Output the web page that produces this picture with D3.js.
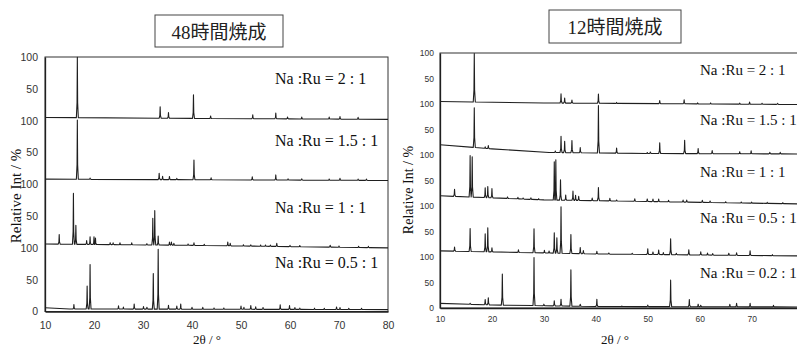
<!DOCTYPE html>
<html><head><meta charset="utf-8">
<script src="https://cdn.jsdelivr.net/npm/d3@7"></script>
<style>
html,body{margin:0;padding:0;background:#fff;overflow:hidden}
svg{display:block}
.serif{font-family:"Liberation Serif","DejaVu Serif",serif}
.jp{font-family:"Liberation Serif","Noto Sans CJK JP",serif}
.narrow{font-family:"Liberation Sans Narrow","Liberation Sans",Arial,sans-serif}
</style></head>
<body>
<svg id="c" width="797" height="349"></svg>
<script>
// ===== DATA =====
const xTicks = [10, 20, 30, 40, 50, 60, 70, 80];
const leftTitle = "48時間焼成";
const rightTitle = "12時間焼成";
const yTitle = "Relative Int / %";
const xTitle = "2θ / °";

const leftLabels = ["Na :Ru = 2 : 1", "Na :Ru = 1.5 : 1", "Na :Ru = 1 : 1", "Na :Ru = 0.5 : 1"];
const rightLabels = ["Na :Ru = 2 : 1", "Na :Ru = 1.5 : 1", "Na :Ru = 1 : 1", "Na :Ru = 0.5 : 1", "Na :Ru = 0.2 : 1"];

// backgrounds: [2θ, stacked level]; peaks: [2θ, relative height]
const L_2_bg = [[10,305],[40,303.5],[80,302]];
const L_2_pk = [[16.6,95],[33.5,18],[35.2,9],[40.3,37],[43.8,4],[52.4,6],[57.1,9],[59.5,3],[62.4,3],[68.0,3],[70.2,4],[73.9,3]];
const L_15_bg = [[10,208],[80,206]];
const L_15_pk = [[16.6,93],[19.2,2],[33.3,10],[34.0,5],[35.4,5],[36.9,2],[40.4,31],[43.9,3],[52.3,5],[57.1,8],[59.6,2],[62.4,2],[68.0,2],[70.2,3],[73.9,2],[75.6,2]];
const L_1_bg = [[10,106],[40,104],[80,100]];
const L_1_pk = [[12.9,15],[15.8,80],[16.3,30],[18.5,6],[19.2,12],[20.0,12],[20.3,10],[23.3,3],[23.9,3],[25.3,3],[27.7,3],[30.8,2],[32.0,42],[32.4,54],[33.1,14],[35.4,5],[35.8,5],[36.3,3],[39.2,2],[40.4,4],[42.5,2],[47.3,6],[47.8,4],[50.5,2],[52,2],[54,2],[55,2],[56,2],[57.3,5],[60,2],[62,2],[68.2,3],[70,2],[74,2],[76,2]];
const L_05_bg = [[10,6],[15,4],[80,3]];
const L_05_pk = [[15.9,7],[18.6,36],[19.2,70],[25.0,5],[26.0,3],[28.2,8],[30.1,4],[30.8,3],[32.1,56],[33.1,94],[35.2,6],[36.9,5],[37.7,8],[40.0,3],[42.2,3],[44.5,2],[46.5,2],[50.0,5],[50.6,3],[52.0,6],[53.0,4],[54.5,3],[58.0,7],[59.9,6],[61.0,3],[62.0,2],[65.0,2],[67.0,2],[69.5,4],[70.2,3],[72.0,2],[74.6,2]];

const R_2_bg = [[10,405],[30,402],[80,399]];
const R_2_pk = [[16.6,95],[33.3,18],[34.0,10],[35.4,6],[40.5,18],[44.0,2],[52.3,6],[57.0,8],[59.6,2],[62.1,2],[67.7,2],[69.6,4],[72,2],[75.0,2]];
const R_15_bg = [[10,320],[20,312],[31,305],[50,303],[80,302]];
const R_15_pk = [[16.6,78],[18.7,3],[19.3,6],[32.2,3],[33.3,32],[34.0,22],[35.4,24],[37.0,10],[40.5,93],[44.0,10],[49.9,2],[50.5,3],[52.3,21],[57.1,26],[59.7,10],[62.4,6],[67.7,4],[69.9,6],[73.5,3],[75.5,3]];
const R_1_bg = [[10,220],[30,212],[80,204]];
const R_1_pk = [[12.8,14],[15.8,81],[16.2,79],[18.7,19],[19.2,22],[20.0,18],[23,3],[25,3],[26,2],[27.5,3],[29,2],[32.0,75],[32.3,79],[33.2,40],[34.2,10],[35.6,18],[36.1,10],[36.7,8],[39.3,5],[40.5,26],[42.7,5],[44,2],[47.5,5],[49.9,5],[51,5],[52.1,5],[54,3],[56.8,4],[57.5,4],[60.5,4],[62,3],[65,2],[68,2],[70,2],[73,2],[76,2]];
const R_05_bg = [[10,112],[40,106],[80,102]];
const R_05_pk = [[12.8,8],[15.8,45],[18.7,35],[19.2,47],[20.0,8],[25.1,5],[28.1,47],[30.1,5],[31,4],[32.0,40],[32.5,30],[33.3,91],[35.2,37],[37.0,12],[37.6,6],[40.2,5],[42.5,2],[47,2],[50.0,11],[51,5],[52.1,9],[53,4],[54.4,31],[55.5,3],[57.9,10],[60.2,6],[61.5,4],[62.5,3],[65.6,4],[67.1,5],[69.7,9],[74,2]];
const R_02_bg = [[10,9],[20,6],[40,3],[80,2]];
const R_02_pk = [[15.8,2],[18.7,10],[19.3,14],[22.0,61],[28.1,94],[30,3],[32.0,10],[33.3,13],[35.2,71],[37,4],[40.2,14],[45,1],[50,3],[54.4,52],[58.0,14],[59.7,5],[60.2,3],[65.8,5],[67.1,7],[69.7,7],[74.2,3]];

// ===== DRAW =====
const svg = d3.select("#c");
const ink = "#1f1f1f";

function traceLine(bg, pk, hw){
  const bgf = t => {
    for (let i=0;i<bg.length-1;i++){
      if (t>=bg[i][0] && t<=bg[i+1][0]){
        const f=(t-bg[i][0])/(bg[i+1][0]-bg[i][0]);
        return bg[i][1]+f*(bg[i+1][1]-bg[i][1]);
      }
    }
    return bg[bg.length-1][1];
  };
  const pts = bg.map(d=>[d[0],d[1]]);
  pk.forEach(([t,h])=>{
    pts.push([t-hw, bgf(t-hw)]);
    pts.push([t-hw*0.3, bgf(t)+h*0.25]);
    pts.push([t, bgf(t)+h]);
    pts.push([t+hw*0.3, bgf(t)+h*0.25]);
    pts.push([t+hw, bgf(t+hw)]);
  });
  pts.sort((a,b)=>a[0]-b[0]);
  return pts;
}

function panel(o){
  const x = d3.scaleLinear().domain([10,80]).range([o.x0,o.x1]);
  const y = d3.scaleLinear().domain([0,o.ymax]).range([o.yb,o.yt]);
  const g = svg.append("g");
  // title box
  g.append("rect").attr("x",o.tb[0]).attr("y",o.tb[1]).attr("width",o.tb[2]).attr("height",o.tb[3])
    .attr("fill","#fff").attr("stroke","#444").attr("stroke-width",1);
  g.append("text").attr("class","jp").attr("x",o.tb[0]+o.tb[2]/2).attr("y",o.tb[1]+o.tb[3]/2+1)
    .attr("text-anchor","middle").attr("dominant-baseline","central")
    .style("font-size",o.tfs+"px").attr("fill","#222")
    .text(o.title);
  // frame
  g.append("rect").attr("x",o.x0).attr("y",o.yt).attr("width",o.x1-o.x0).attr("height",o.yb-o.yt)
    .attr("fill","none").attr("stroke","#333").attr("stroke-width",1);
  // axes
  const yAxis = d3.axisLeft(y).tickValues(d3.range(0,o.ymax+1,50)).tickSize(0).tickPadding(o.ypad)
    .tickFormat(v => v===0 ? "0" : (v%100===0 ? "100" : "50"));
  const ya = g.append("g").attr("transform",`translate(${o.x0},0)`).call(yAxis);
  ya.attr("font-family",null).attr("font-size",null);
  ya.select(".domain").attr("stroke",ink).attr("stroke-width",1.3);
  ya.selectAll("text").attr("class","narrow").style("font-size",o.lfs+"px").attr("fill","#333");
  const xAxis = d3.axisBottom(x).tickValues(o.xt).tickSize(0).tickPadding(o.xpad).tickFormat(d3.format("d"));
  const xa = g.append("g").attr("transform",`translate(0,${o.yb})`).call(xAxis);
  xa.attr("font-family",null).attr("font-size",null);
  xa.select(".domain").attr("stroke",ink).attr("stroke-width",1.3);
  xa.selectAll("text").attr("class","narrow").style("font-size",o.lfs+"px").attr("fill","#333");
  // traces
  const line = d3.line().x(d=>x(d[0])).y(d=>y(d[1]));
  o.series.forEach(s=>{
    g.append("path").attr("d",line(traceLine(s[0],s[1],o.hw)))
      .attr("fill","none").attr("stroke",ink).attr("stroke-width",1.1).attr("stroke-linejoin","round");
  });
  // labels
  o.labels.forEach((t,i)=>{
    g.append("text").attr("class","serif").attr("x",o.lx).attr("y",o.ly[i]).attr("dominant-baseline","central")
      .style("font-size",o.nfs+"px").attr("fill","#111").text(t);
  });
  // axis titles
  g.append("text").attr("class","serif").attr("transform",`translate(${o.yx},${o.yy}) rotate(-90)`)
    .attr("text-anchor","middle").attr("dominant-baseline","central")
    .style("font-size",o.yfs+"px").attr("fill","#111").text(yTitle);
  g.append("text").attr("class","serif").attr("x",o.xx).attr("y",o.xy).attr("text-anchor","middle").attr("dominant-baseline","central")
    .style("font-size",o.xfs+"px").attr("fill","#111").text(xTitle);
}

panel({
  x0:45, x1:388, yt:57, yb:311.5, ymax:400, hw:0.2,
  tb:[155,15,128,32], title:leftTitle, tfs:19,
  xt:xTicks, lfs:10.5, ypad:7, xpad:10,
  series:[[L_2_bg,L_2_pk],[L_15_bg,L_15_pk],[L_1_bg,L_1_pk],[L_05_bg,L_05_pk]],
  labels:leftLabels, lx:275, ly:[78,140,207,262], nfs:16,
  yx:16, yy:196, xx:207, xy:339, yfs:15, xfs:13
});
panel({
  x0:440, x1:803.6, yt:53, yb:308, ymax:500, hw:0.2,
  tb:[549,10,132,33], title:rightTitle, tfs:19,
  xt:xTicks.slice(0,7), lfs:8.5, ypad:6, xpad:8,
  series:[[R_2_bg,R_2_pk],[R_15_bg,R_15_pk],[R_1_bg,R_1_pk],[R_05_bg,R_05_pk],[R_02_bg,R_02_pk]],
  labels:rightLabels, lx:700, ly:[70,120,172,218,273], nfs:15,
  yx:408, yy:190, xx:615, xy:339, yfs:14, xfs:13
});
</script>
</body></html>
